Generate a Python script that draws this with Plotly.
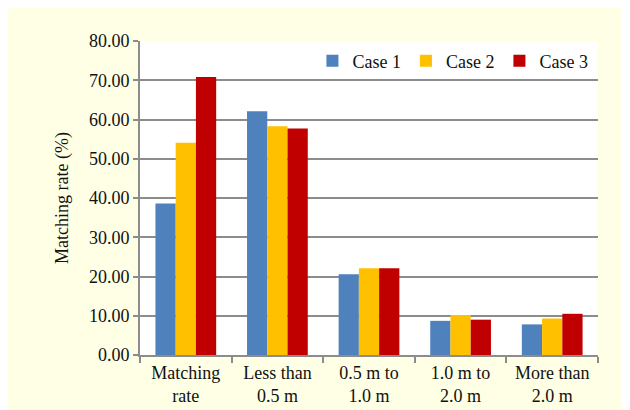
import plotly.graph_objects as go

categories = ["Matching<br>rate", "Less than<br>0.5 m", "0.5 m to<br>1.0 m", "1.0 m to<br>2.0 m", "More than<br>2.0 m"]
series_names = ["Case 1", "Case 2", "Case 3"]
case1 = [38.6, 62.1, 20.6, 8.7, 7.8]
case2 = [54.1, 58.3, 22.1, 10.2, 9.3]
case3 = [70.8, 57.7, 22.1, 9.0, 10.5]
colors = ["#4F81BD", "#FFC000", "#C00000"]
y_ticks = [0, 10, 20, 30, 40, 50, 60, 70, 80]

FONT = "Liberation Serif, Times New Roman, serif"
GRID = "#8C8C8C"

fig = go.Figure()
for name, vals, col in zip(series_names, [case1, case2, case3], colors):
    fig.add_trace(go.Bar(x=categories, y=vals, name=name, marker_color=col,
                         marker_line_width=0))

fig.update_layout(
    width=630, height=410,
    margin=dict(l=132, r=40, t=33, b=63),
    paper_bgcolor="#FFFFE5",
    plot_bgcolor="white",
    font=dict(family=FONT, size=18, color="#111111"),
    barmode="group", bargap=0.337, bargroupgap=0,
    showlegend=True,
    legend=dict(orientation="h", x=0.99, xanchor="right", y=0.936, yanchor="middle",
                bgcolor="rgba(0,0,0,0)", font=dict(family=FONT, size=18),
                itemwidth=30, traceorder="normal"),
)

fig.update_xaxes(
    showline=True, linecolor=GRID, linewidth=2,
    ticks="outside", tickson="boundaries", ticklen=6, tickcolor=GRID, tickwidth=2,
    showgrid=False, tickfont=dict(family=FONT, size=18),
)
fig.update_yaxes(
    range=[0, 80], tickvals=y_ticks, tickformat=".2f",
    showline=True, linecolor=GRID, linewidth=2,
    ticks="outside", ticklen=5, tickcolor=GRID, tickwidth=2,
    showgrid=True, gridcolor=GRID, gridwidth=2, zeroline=False,
    tickfont=dict(family=FONT, size=18),
    title=dict(text="Matching rate (%)", font=dict(family=FONT, size=18), standoff=16),
)

fig.write_html("out.html")
